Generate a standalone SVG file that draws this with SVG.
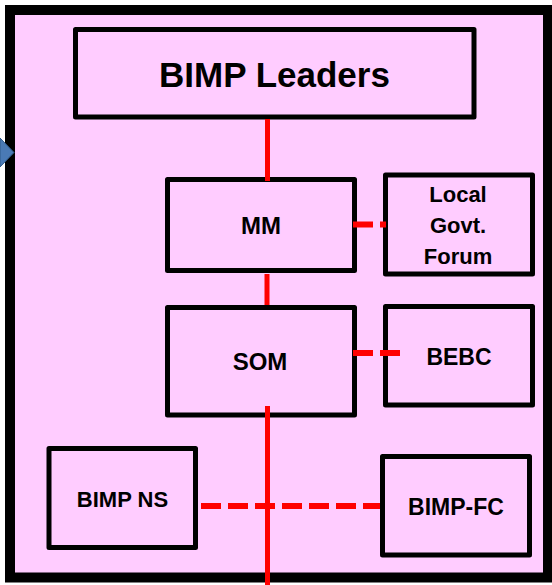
<svg xmlns="http://www.w3.org/2000/svg" width="552" height="585" viewBox="0 0 552 585">
<style>
.box{fill:#FFCCFF;stroke:#000;stroke-width:5;stroke-linejoin:round}
.t{font-family:"Liberation Sans",Arial,sans-serif;font-weight:bold;fill:#000;text-anchor:middle}
.solid{stroke:#FF0000;stroke-width:5;fill:none}
.dash{stroke:#FF0000;stroke-width:6;fill:none;stroke-dasharray:20 7}
</style>
<rect x="0" y="0" width="552" height="585" fill="#fff"/>
<rect id="frame" x="10" y="10" width="538" height="567.5" fill="#FFCCFF" stroke="#000" stroke-width="10"/>
<polygon points="0,138 14,152.5 0,167" fill="#4A7AB5" stroke="#2F5A8A" stroke-width="1"/>
<g id="leaders"><rect class="box" x="75.5" y="29.5" width="398.5" height="87.5"/><text class="t" x="274.5" y="87" font-size="35">BIMP Leaders</text></g>
<g id="mm"><rect class="box" x="167.5" y="179.5" width="187" height="91"/><text class="t" x="261" y="234" font-size="24">MM</text></g>
<g id="som"><rect class="box" x="167.5" y="307.5" width="187" height="107.5"/><text class="t" x="260" y="370" font-size="24">SOM</text></g>
<g id="lgf"><rect class="box" x="385.5" y="175" width="147" height="99"/><text class="t" x="458" y="202" font-size="22">Local</text><text class="t" x="458" y="233" font-size="22">Govt.</text><text class="t" x="458" y="264" font-size="22">Forum</text></g>
<g id="bebc"><rect class="box" x="385.5" y="306.5" width="147" height="98.5"/><text class="t" x="459" y="365" font-size="23">BEBC</text></g>
<g id="bimpns"><rect class="box" x="49" y="448.5" width="146.5" height="99"/><text class="t" x="122.5" y="507" font-size="22">BIMP NS</text></g>
<g id="bimpfc"><rect class="box" x="382.5" y="456.5" width="147" height="98.5"/><text class="t" x="456" y="515" font-size="23">BIMP-FC</text></g>
<g id="connectors">
<line class="solid" x1="267.5" y1="119" x2="267.5" y2="181"/>
<line class="solid" x1="267" y1="274" x2="267" y2="305"/>
<line class="solid" x1="267.5" y1="406" x2="267.5" y2="585"/>
<line class="dash" x1="353" y1="224.5" x2="386" y2="224.5"/>
<line class="dash" x1="353" y1="353" x2="400" y2="353"/>
<line class="dash" x1="201" y1="506" x2="380" y2="506"/>
</g>
</svg>
